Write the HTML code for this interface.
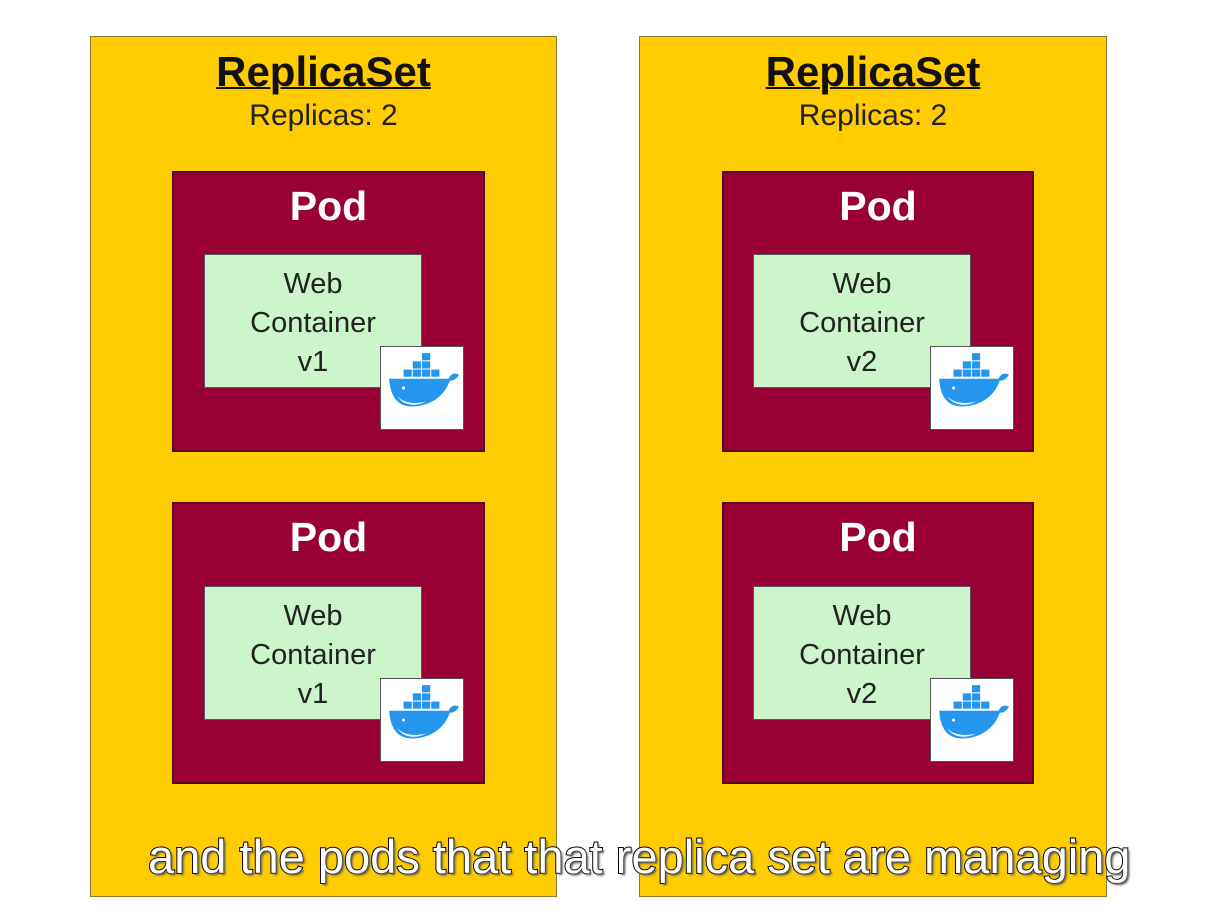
<!DOCTYPE html>
<html><head><meta charset="utf-8"><style>
body{margin:0;width:1210px;height:913px;background:#fff;position:relative;overflow:hidden;font-family:"Liberation Sans","DejaVu Sans",sans-serif}
.a{position:absolute;box-sizing:border-box}
.rs{background:#fecc00;border:1px solid #8a7a30}
.t1{font-weight:bold;font-size:42px;text-decoration:underline;text-decoration-thickness:2px;text-align:center;color:#111;width:100%;top:11px}
.t2{font-size:30px;text-align:center;color:#222;width:100%;top:62px}
.pod{background:#990033;border:2px solid #5a0a1e}
.pt{color:#fff;font-weight:bold;font-size:41px;text-align:center;width:100%;top:10px}
.web{background:#ccf5cc;border:1px solid #556;font-size:29px;line-height:39px;text-align:center;color:#222;padding-top:10px}
.dk{background:#fff;border:1px solid #555}
.sub{font-size:47px;color:#fff;white-space:nowrap;-webkit-text-stroke:2px #000;paint-order:stroke fill;text-shadow:2px 2px 2px #555}
</style></head><body>
<div class="a rs" style="left:90px;top:36px;width:467px;height:861px"><div class="a t1">ReplicaSet</div><div class="a t2">Replicas: 2</div></div>
<div class="a rs" style="left:639px;top:36px;width:468px;height:861px"><div class="a t1">ReplicaSet</div><div class="a t2">Replicas: 2</div></div>

<div class="a pod" style="left:172px;top:171px;width:313px;height:281px"><div class="a pt">Pod</div></div>
<div class="a pod" style="left:172px;top:502px;width:313px;height:282px"><div class="a pt">Pod</div></div>
<div class="a pod" style="left:722px;top:171px;width:312px;height:281px"><div class="a pt">Pod</div></div>
<div class="a pod" style="left:722px;top:502px;width:312px;height:282px"><div class="a pt">Pod</div></div>

<div class="a web" style="left:204px;top:254px;width:218px;height:134px">Web<br>Container<br>v1</div>
<div class="a web" style="left:204px;top:586px;width:218px;height:134px">Web<br>Container<br>v1</div>
<div class="a web" style="left:753px;top:254px;width:218px;height:134px">Web<br>Container<br>v2</div>
<div class="a web" style="left:753px;top:586px;width:218px;height:134px">Web<br>Container<br>v2</div>

<svg width="0" height="0" style="position:absolute"><defs><symbol id="w" viewBox="0 0 80 80">
<g fill="#2496ed"><rect x="22" y="22" width="8" height="7"/><rect x="31" y="22" width="8" height="7"/><rect x="40" y="22" width="8" height="7"/><rect x="31" y="14" width="8" height="7"/><rect x="40" y="14" width="8" height="7"/><rect x="40" y="6" width="8" height="7"/><rect x="49" y="22" width="8" height="7"/>
<path d="M8 31 H66 C68 26 72 25 76 27 C74 31 71 33 67 33 C62 48 48 58 30 58 C16 58 9 48 8 31Z"/></g>
<path d="M16 48 C22 55 34 56 44 53 C36 58 22 58 16 48Z" fill="#fff"/><circle cx="22" cy="40" r="1.5" fill="#fff"/>
</symbol></defs></svg>
<div class="a dk" style="left:380px;top:346px;width:84px;height:84px"><svg width="82" height="82"><use href="#w"/></svg></div>
<div class="a dk" style="left:380px;top:678px;width:84px;height:84px"><svg width="82" height="82"><use href="#w"/></svg></div>
<div class="a dk" style="left:930px;top:346px;width:84px;height:84px"><svg width="82" height="82"><use href="#w"/></svg></div>
<div class="a dk" style="left:930px;top:678px;width:84px;height:84px"><svg width="82" height="82"><use href="#w"/></svg></div>

<div class="a sub" style="left:148px;top:829px">and the pods that that replica set are managing</div>
</body></html>
